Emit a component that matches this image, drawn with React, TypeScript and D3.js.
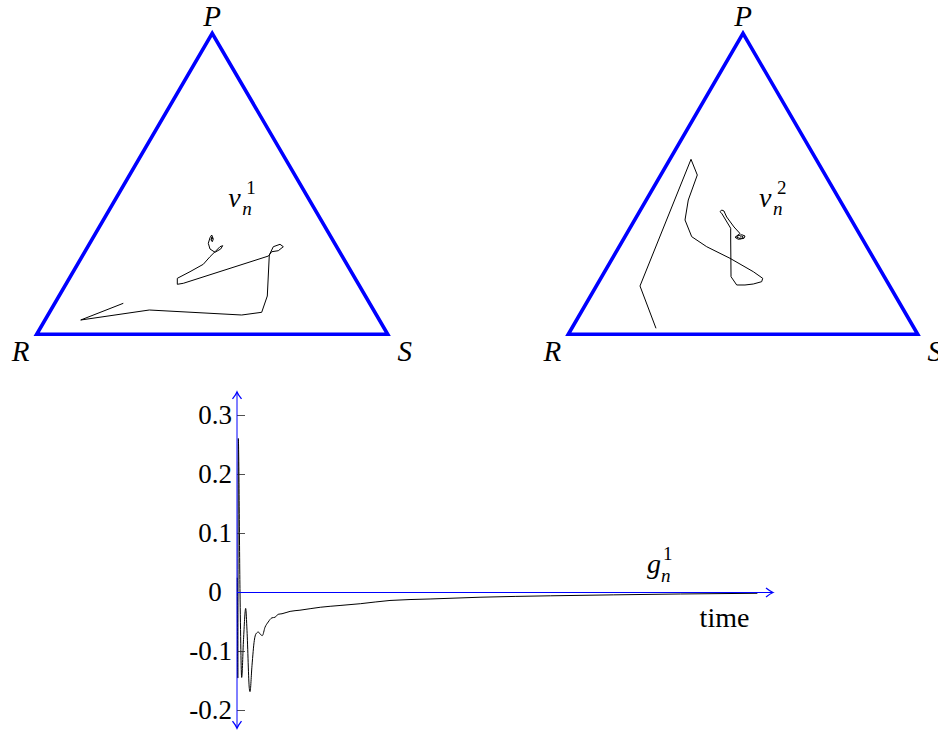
import React from 'react';
import * as d3 from 'd3';

// trajectories in the simplex plane: [u, h], u along R->S, h towards P
const traj1: [number, number][] = [
  [0.2467, 0.1030], [0.1254, 0.0475], [0.3208, 0.0807], [0.5840, 0.0641],
  [0.6410, 0.0731], [0.6570, 0.1272], [0.6627, 0.2635], [0.6741, 0.2910],
  [0.6932, 0.2990], [0.7026, 0.2910], [0.6883, 0.2777], [0.6695, 0.2744],
  [0.6604, 0.2601], [0.4177, 0.1694], [0.4006, 0.1661], [0.4006, 0.1860],
  [0.4368, 0.2080], [0.4746, 0.2326], [0.4937, 0.2578], [0.5080, 0.2744],
  [0.5222, 0.2910], [0.5299, 0.2944], [0.5242, 0.2834], [0.5080, 0.2724],
  [0.4937, 0.2834], [0.4889, 0.3023], [0.4937, 0.3209], [0.4986, 0.3299],
  [0.5031, 0.3166], [0.5003, 0.3076], [0.4966, 0.3133], [0.4990, 0.3230],
  [0.5010, 0.3180], [0.4975, 0.3160], [0.4995, 0.3200],
];

const traj2: [number, number][] = [
  [0.2510, 0.0199], [0.2052, 0.1605], [0.3512, 0.5814], [0.3692, 0.5292],
  [0.3434, 0.4462], [0.3340, 0.3797], [0.3532, 0.3243], [0.3961, 0.2910],
  [0.4628, 0.2525], [0.5295, 0.2080], [0.5564, 0.1860], [0.5535, 0.1748],
  [0.5295, 0.1671], [0.5057, 0.1638], [0.4820, 0.1638], [0.4657, 0.1914],
  [0.4648, 0.3133], [0.4648, 0.3522], [0.4390, 0.4020], [0.4342, 0.4073],
  [0.4390, 0.4130], [0.4456, 0.4096], [0.4493, 0.3997], [0.4534, 0.3897],
  [0.4743, 0.3565], [0.4914, 0.3349], [0.4771, 0.3223], [0.4865, 0.3156],
  [0.5029, 0.3189], [0.5057, 0.3266], [0.4963, 0.3309], [0.4837, 0.3266],
  [0.4820, 0.3223], [0.4934, 0.3176], [0.5009, 0.3223], [0.4963, 0.3266],
  [0.4914, 0.3223],
];

// g_n^1 over time
const gTime = [0.6, 1.5, 2.5, 5.8, 9, 12.5, 16.7, 19.2, 23.7, 25, 28.8, 33.3, 36.5, 41, 45,
  48.7, 53.8, 60, 67, 73, 79, 86.5, 102, 121, 160, 198, 237, 294, 371, 467, 602, 723, 852, 1000];
const gValue = [0.025, -0.145, 0.261, 0, -0.144, -0.08, -0.027, -0.064, -0.163, -0.168, -0.124,
  -0.081, -0.07, -0.067, -0.071, -0.073, -0.059, -0.05, -0.043, -0.042, -0.037, -0.036, -0.032,
  -0.03, -0.025, -0.022, -0.019, -0.0135, -0.011, -0.008, -0.0056, -0.004, -0.0025, -0.0013];

const yTicks = [-0.2, -0.1, 0, 0.1, 0.2, 0.3];
const yTickLabels = ['-0.2', '-0.1', '0', '0.1', '0.2', '0.3'];
const vertexLabels = ['P', 'R', 'S'];

const BLUE = '#0000ff';
const SERIF = '"Liberation Serif", "DejaVu Serif", serif';

function Simplex({ x0, x1, yBase, yTop, path, sup }: {
  x0: number; x1: number; yBase: number; yTop: number; path: [number, number][]; sup: string;
}) {
  const x = d3.scaleLinear().domain([0, 1]).range([x0, x1]);
  const y = d3.scaleLinear().domain([0, 1]).range([yBase, yTop]);
  const tri = `M${x(0)},${y(0)}L${x(1)},${y(0)}L${x(0.5)},${y(1)}Z`;
  const line = d3.line<[number, number]>().x(d => x(d[0])).y(d => y(d[1]));
  const lx = x(0.5);
  return (
    <g fontFamily={SERIF}>
      <path d={tri} fill="none" stroke={BLUE} strokeWidth={3.6} strokeLinejoin="miter" strokeMiterlimit={10} />
      <path d={line(path) || ''} fill="none" stroke="#000" strokeWidth={1} strokeLinejoin="round" />
      <text x={lx} y={y(1) - 7} textAnchor="middle" fontSize={29} fontStyle="italic">{vertexLabels[0]}</text>
      <text x={x(0) - 16} y={y(0) + 27} textAnchor="middle" fontSize={29} fontStyle="italic">{vertexLabels[1]}</text>
      <text x={x(1) + 17} y={y(0) + 27} textAnchor="middle" fontSize={29} fontStyle="italic">{vertexLabels[2]}</text>
      <text x={lx + 16} y={207} fontSize={28} fontStyle="italic">v</text>
      <text x={lx + 30} y={215} fontSize={19} fontStyle="italic">n</text>
      <text x={lx + 34} y={194} fontSize={19}>{sup}</text>
    </g>
  );
}

function Series() {
  const x = d3.scaleLinear().domain([0, 1030]).range([237, 773]);
  const y = d3.scaleLinear().domain([-0.2, 0.3]).range([710.5, 415.5]);
  const yMin = -0.23, yMax = 0.34;
  const pts = gTime.map((t, i) => [t, gValue[i]] as [number, number]);
  const line = d3.line<[number, number]>().x(d => x(d[0])).y(d => y(d[1])).curve(d3.curveMonotoneX);
  return (
    <g fontFamily={SERIF}>
      <path d={line(pts) || ''} fill="none" stroke="#000" strokeWidth={1} />
      {yTicks.map((t, i) => t === 0 ? null : (
        <line key={'k' + i} x1={x(0)} x2={x(0) + 8} y1={y(t)} y2={y(t)} stroke="#222" strokeWidth={0.8} />
      ))}
      <line x1={x(0)} x2={x(0)} y1={y(yMin)} y2={y(yMax)} stroke={BLUE} strokeWidth={1}
        markerStart="url(#arr)" markerEnd="url(#arr)" />
      <line x1={x(0)} x2={x(1030)} y1={y(0)} y2={y(0)} stroke={BLUE} strokeWidth={1} markerEnd="url(#arr)" />
      {yTicks.map((t, i) => (
        <text key={'l' + i} x={t === 0 ? 215 : 232} y={y(t) + 8.5} fontSize={27}
          textAnchor={t === 0 ? 'middle' : 'end'}>{yTickLabels[i]}</text>
      ))}
      <text x={647} y={573} fontSize={28} fontStyle="italic">g</text>
      <text x={661} y={582} fontSize={19} fontStyle="italic">n</text>
      <text x={663} y={560} fontSize={19}>1</text>
      <text x={724.5} y={627} fontSize={28} textAnchor="middle">time</text>
    </g>
  );
}

export default function App() {
  return (
    <svg width={938} height={730} viewBox="0 0 938 730"
      style={{ position: 'absolute', left: 0, top: 0, background: '#fff' }}>
      <defs>
        <marker id="arr" viewBox="-9 -6 11 12" refX={0} refY={0} markerWidth={11} markerHeight={12}
          markerUnits="userSpaceOnUse" orient="auto-start-reverse">
          <path d="M-7,-4.5 Q-2.5,-1 0,0 Q-2.5,1 -7,4.5" fill="none" stroke={BLUE} strokeWidth={1.3} />
        </marker>
      </defs>
      <Simplex x0={36.7} x1={387.7} yBase={334.3} yTop={33.3} path={traj1} sup="1" />
      <Simplex x0={568.3} x1={917.7} yBase={334.3} yTop={33.3} path={traj2} sup="2" />
      <Series />
    </svg>
  );
}
